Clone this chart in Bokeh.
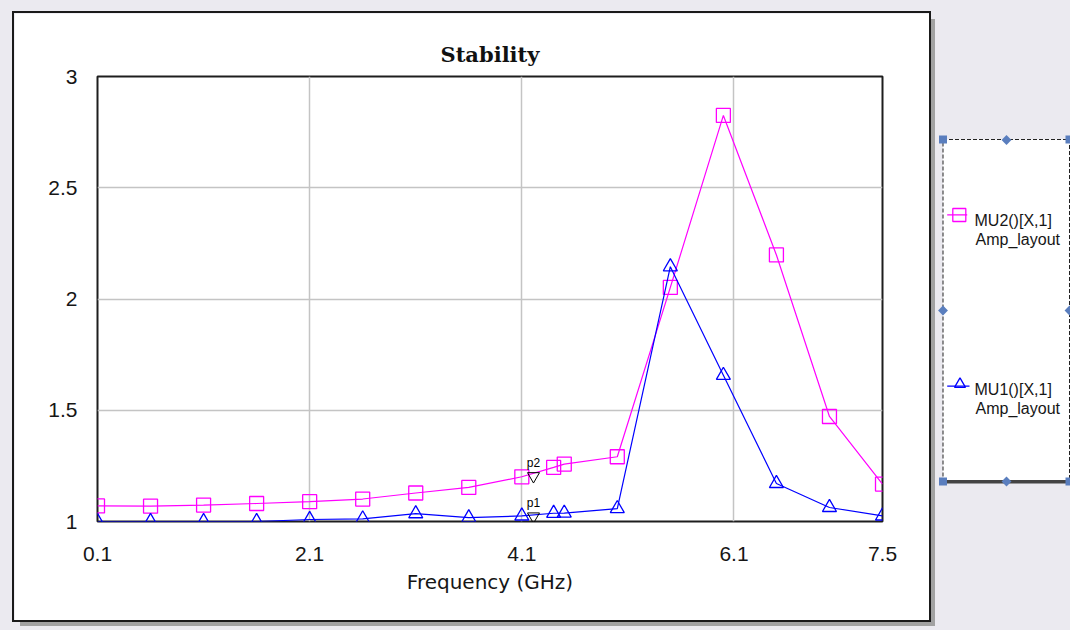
import math
from bokeh.plotting import figure
from bokeh.models import ColumnDataSource, Spacer
from bokeh.layouts import row, column
from bokeh.core.properties import value
from bokeh.embed import file_html
from bokeh.resources import INLINE

# ---------------- data ----------------
freq_ghz = [0.1, 0.6, 1.1, 1.6, 2.1, 2.6, 3.1, 3.6, 4.1, 4.4, 4.5, 5.0, 5.5, 6.0, 6.5, 7.0, 7.5]
mu2 = [1.070, 1.069, 1.074, 1.081, 1.089, 1.101, 1.128, 1.153, 1.201, 1.243, 1.258,
       1.291, 2.052, 2.825, 2.198, 1.472, 1.168]
mu1 = [1.000, 1.000, 1.000, 1.000, 1.009, 1.012, 1.035, 1.017, 1.025, 1.037, 1.038,
       1.058, 2.145, 1.657, 1.171, 1.063, 1.025]
x_ticks = [0.1, 2.1, 4.1, 6.1, 7.5]
x_tick_labels = ["0.1", "2.1", "4.1", "6.1", "7.5"]
y_ticks = [1, 1.5, 2, 2.5, 3]
y_tick_labels = ["1", "1.5", "2", "2.5", "3"]
series_names = ["MU2()[X,1]", "MU1()[X,1]"]
series_doc = "Amp_layout"
marker_names = ["p1", "p2"]
marker_freq = [4.21, 4.21]
marker_vals = [1.023, 1.204]
chart_title = "Stability"
x_title = "Frequency (GHz)"

PINK = "#FF00FF"
BLUE = "#0000FF"
BG = "#EBEAF0"
HANDLE = "#5A7EBE"

# ---------------- main chart panel (white box, page x 14..929, y 13..620) ----------------
PW, PH = 915, 607
FL, FT, FW, FH = 83, 63, 785, 445

fig = figure(frame_width=FW, frame_height=FH,
             min_border_left=FL, min_border_top=FT,
             min_border_right=PW - FL - FW, min_border_bottom=PH - FT - FH,
             x_range=(0.1, 7.5), y_range=(1, 3),
             toolbar_location=None, output_backend="svg",
             background_fill_color="white", border_fill_color="white",
             title=chart_title)
fig.styles = {"outline": "2px solid #1a1a1a", "box-shadow": "6px 6px 0px 0px #A2A2A2"}

fig.title.align = "center"
fig.title.text_font = "DejaVu Serif"
fig.title.text_font_style = "bold"
fig.title.text_font_size = "21px"
fig.title.text_color = "#111111"
fig.title.standoff = 20

fig.outline_line_color = "#1e1e1e"
fig.outline_line_width = 2

fig.xaxis.ticker = x_ticks
fig.yaxis.ticker = y_ticks
fig.xaxis.major_label_overrides = {t: s for t, s in zip(x_ticks, x_tick_labels)}
fig.yaxis.major_label_overrides = {t: s for t, s in zip(y_ticks, y_tick_labels)}
for ax in (fig.xaxis[0], fig.yaxis[0]):
    ax.axis_line_color = None
    ax.major_tick_line_color = None
    ax.minor_tick_line_color = None
    ax.major_tick_out = 0
    ax.major_tick_in = 0
    ax.minor_tick_out = 0
    ax.minor_tick_in = 0
    ax.major_label_text_font = "Liberation Sans"
    ax.major_label_text_font_size = "21px"
    ax.major_label_text_color = "#161616"
fig.xaxis.major_label_standoff = 25
fig.yaxis.major_label_standoff = 20
fig.xaxis.axis_label = x_title
fig.xaxis.axis_label_text_font = "DejaVu Sans"
fig.xaxis.axis_label_text_font_size = "20px"
fig.xaxis.axis_label_text_font_style = "normal"
fig.xaxis.axis_label_text_color = "#161616"
fig.xaxis.axis_label_standoff = 6

for g in (fig.xgrid[0], fig.ygrid[0]):
    g.grid_line_color = "#C4C4C4"
    g.grid_line_width = 1.5

src = ColumnDataSource(dict(freq=freq_ghz, mu1=mu1, mu2=mu2))
fig.line("freq", "mu2", source=src, line_color=PINK, line_width=1.2)
fig.scatter("freq", "mu2", source=src, marker="square", size=14,
            fill_color=None, line_color=PINK, line_width=1.3)
fig.line("freq", "mu1", source=src, line_color=BLUE, line_width=1.2)
fig.scatter("freq", "mu1", source=src, marker="triangle", size=14,
            fill_color=None, line_color=BLUE, line_width=1.3)

msrc = ColumnDataSource(dict(x=marker_freq, y=marker_vals, name=marker_names))
fig.scatter("x", "y", source=msrc, marker="inverted_triangle", size=12,
            fill_color=None, line_color="black", line_width=1)
fig.text("x", "y", text="name", source=msrc, text_font=value("Liberation Sans"),
         text_font_size="12px", text_align="center", text_baseline="bottom",
         y_offset=-6, text_color="black")

# ---------------- legend panel (page x 936..1070, y 133..488) ----------------
LX0, LX1, LY0, LY1 = 936, 1070, 133, 488
leg = figure(frame_width=LX1 - LX0, frame_height=LY1 - LY0,
             min_border=0, x_range=(LX0, LX1), y_range=(LY1, LY0),
             x_axis_type=None, y_axis_type=None,
             toolbar_location=None, output_backend="svg",
             background_fill_color=BG, border_fill_color=BG)
leg.outline_line_color = None
leg.grid.visible = False

leg.quad(left=[942.5], right=[1069], top=[139], bottom=[481],
         fill_color="white", line_color="#222222", line_width=1, line_dash="4 2")
leg.quad(left=[942.5], right=[1069], top=[479.5], bottom=[483],
         fill_color="#444444", line_color=None)
leg.scatter(x=[942.5, 1069, 942.5, 1069], y=[139, 139, 481, 481], marker="square",
            size=8, fill_color=HANDLE, line_color=None)
leg.scatter(x=[1006, 942.5, 1069, 1006], y=[139.5, 310, 310, 481], marker="square",
            angle=math.pi / 4, size=7, fill_color=HANDLE, line_color=None)

leg.line(x=[946.7, 966.7], y=[214.3, 214.3], line_color=PINK, line_width=1.2)
leg.scatter(x=[958.8], y=[214.5], marker="square", size=13,
            fill_color=None, line_color=PINK, line_width=1.3)
leg.line(x=[946.7, 969], y=[385.7, 385.7], line_color=BLUE, line_width=1.2)
leg.scatter(x=[959.5], y=[383.7], marker="triangle", size=11,
            fill_color=None, line_color=BLUE, line_width=1.3)

leg.text(x=[974, 975, 974, 975], y=[220, 239, 389.3, 408.3],
         text=[series_names[0], series_doc, series_names[1], series_doc],
         text_font=value("Liberation Sans"), text_font_size="16px",
         text_color="#161616", text_baseline="alphabetic", text_align="left")

# ---------------- page layout ----------------
left_col = column(Spacer(width=922, height=13), fig, Spacer(width=922, height=10))
right_col = column(Spacer(width=134, height=LY0), leg, Spacer(width=134, height=630 - LY1))
p = row(Spacer(width=14, height=630), left_col, right_col,
        styles={"background-color": BG})

open("out.html", "w").write(file_html(p, INLINE))
